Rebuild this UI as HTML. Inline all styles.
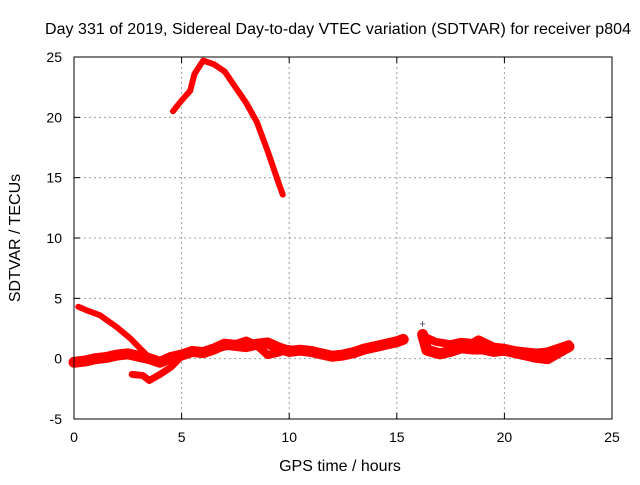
<!DOCTYPE html>
<html><head><meta charset="utf-8"><style>
body{margin:0;background:#fff}
svg text{font-family:"Liberation Sans",sans-serif;font-size:14px;fill:#000}
svg text.ttl{font-size:16px}
</style></head><body>
<svg width="640" height="480" id="c">
<text class="ttl" x="338" y="34" text-anchor="middle" textLength="586">Day 331 of 2019, Sidereal Day-to-day VTEC variation (SDTVAR) for receiver p804</text>
<text class="ttl" x="340" y="471" text-anchor="middle">GPS time / hours</text>
<text class="ttl" transform="translate(20,238) rotate(-90)" text-anchor="middle">SDTVAR / TECUs</text>
<g id="grid"></g>
<g id="ticks"></g>
<g id="series"></g>
<rect x="74" y="57" width="538" height="362" fill="none" stroke="#000"/>
</svg>
<script>
const xTicks=[0,5,10,15,20,25];
const yTicks=[-5,0,5,10,15,20,25];
const arcX=[4.6,5.0,5.4,5.6,6.0,6.5,7.0,7.5,8.0,8.5,9.0,9.5,9.7];
const arcY=[20.5,21.4,22.2,23.6,24.7,24.4,23.8,22.5,21.2,19.6,17.2,14.6,13.6];
const declX=[0.2,0.6,1.2,2.0,2.6,3.1,3.5,3.9];
const declY=[4.3,4.0,3.6,2.6,1.7,0.8,0.1,-0.2];
const dipX=[2.7,3.2,3.5,4.0,4.5,5.0];
const dipY=[-1.3,-1.4,-1.8,-1.3,-0.7,0.2];
const bandX=[0,0.5,1,1.5,2,2.5,3,3.5,4,4.5,5,5.5,6,6.5,7,7.5,8,8.5,9,9.5,10,10.5,11,11.5,12,12.5,13,13.5,14,14.5,15,15.3];
const bandY=[-0.3,-0.2,0,0.1,0.3,0.4,0.2,0,-0.3,0.1,0.3,0.6,0.5,0.8,1.2,1.1,1.0,1.2,1.3,0.9,0.6,0.7,0.6,0.4,0.2,0.3,0.5,0.8,1.0,1.2,1.4,1.6];
const band2X=[6.5,7,7.5,8,8.5,9,9.5,10];
const band2Y=[0.8,1.0,1.2,1.5,1.1,0.3,0.5,0.8];
const lateX=[16.2,16.4,17,17.5,18,18.5,19,19.5,20,20.5,21,21.5,22,22.5,23];
const lateY=[2.0,0.7,0.4,0.6,0.9,0.8,0.8,0.6,0.7,0.5,0.3,0.1,0,0.5,1.0];
const late2X=[16.3,16.8,17.5,18,18.5,18.8,19.5,20,20.5,21,21.5,22,22.5,23];
const late2Y=[1.8,1.4,1.2,1.4,1.3,1.6,1.0,0.9,0.7,0.6,0.5,0.6,0.9,1.2];
const crossX=[16.2], crossY=[2.9];
const sx=v=>74+v*538/25, sy=v=>419-(v+5)*362/30;
const NS='http://www.w3.org/2000/svg';
function mk(t,a,p){const e=document.createElementNS(NS,t);for(const k in a)e.setAttribute(k,a[k]);p.appendChild(e);return e;}
const g=document.getElementById('grid'),tk=document.getElementById('ticks'),s=document.getElementById('series');
xTicks.forEach(v=>{
 if(v>0&&v<25){const l=mk('line',{x1:sx(v),x2:sx(v),y1:57,y2:419,stroke:'#a0a0a0','stroke-dasharray':'2,3'},g);}
 const t=mk('text',{x:sx(v),y:442,'text-anchor':'middle'},tk);t.textContent=v;
 
 mk('line',{x1:sx(v),x2:sx(v),y1:419,y2:413,stroke:'#000'},tk);mk('line',{x1:sx(v),x2:sx(v),y1:57,y2:63,stroke:'#000'},tk);
});
yTicks.forEach(v=>{
 if(v>-5&&v<25){const l=mk('line',{x1:74,x2:612,y1:sy(v),y2:sy(v),stroke:'#a0a0a0','stroke-dasharray':'2,3'},g);}
 const t=mk('text',{x:62,y:sy(v)+5,'text-anchor':'end'},tk);t.textContent=v;
 
 mk('line',{x1:74,x2:80,y1:sy(v),y2:sy(v),stroke:'#000'},tk);mk('line',{x1:612,x2:606,y1:sy(v),y2:sy(v),stroke:'#000'},tk);
});
function line(X,Y,w,name){const p=mk('polyline',{points:X.map((x,i)=>sx(x)+','+sy(Y[i])).join(' '),fill:'none',stroke:'#f00','stroke-width':w,'stroke-linejoin':'round','stroke-linecap':'round'},s);
 }
line(arcX,arcY,6,'series-high-arc');
line(declX,declY,6,'series-decline');
line(dipX,dipY,7,'series-dip');
line(bandX,bandY,11,'series-main-band');
line(band2X,band2Y,8,'series-band-upper');
line(lateX,lateY,11,'series-late-band');
line(late2X,late2Y,8,'series-late-upper');
crossX.forEach((x,i)=>{const c=mk('text',{x:sx(x),y:sy(crossY[i])+4,'text-anchor':'middle',style:'fill:#446;font-size:11px'},s);c.textContent='+';
 });
</script>
</body></html>
